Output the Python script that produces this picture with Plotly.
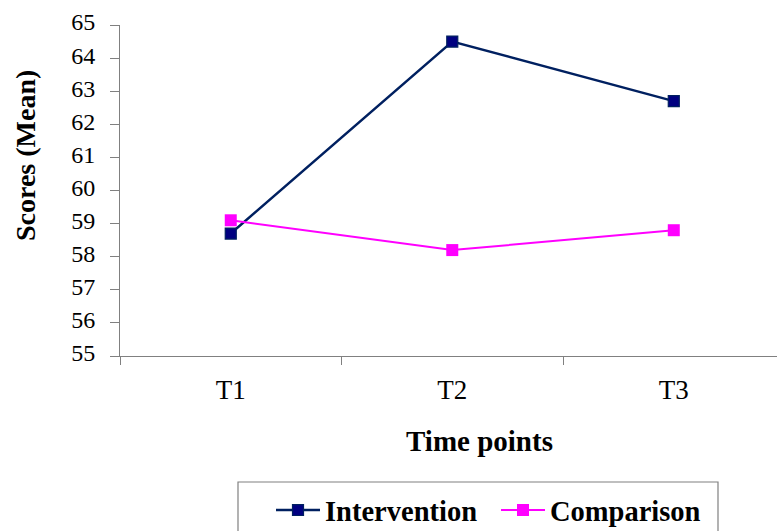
import plotly.graph_objects as go

# Mean scores at each time point
time_points = ["T1", "T2", "T3"]
intervention = [58.7, 64.5, 62.7]
comparison = [59.1, 58.2, 58.8]

SERIF = "Liberation Serif"
AXIS_GREY = "#808080"

W, H = 777, 531
M_L, M_R, M_T, M_B = 120, 0, 25, 175
PW, PH = W - M_L - M_R, H - M_T - M_B


def px_x(px):
    return (px - M_L) / PW


def px_y(py):
    return (H - M_B - py) / PH


fig = go.Figure()
fig.add_trace(go.Scatter(
    x=time_points, y=intervention, name="Intervention",
    mode="lines+markers",
    line=dict(color="#002060", width=2.5),
    marker=dict(symbol="square", size=11, color="#000080",
                line=dict(color="#002060", width=1.2)),
))
fig.add_trace(go.Scatter(
    x=time_points, y=comparison, name="Comparison",
    mode="lines+markers",
    line=dict(color="#FF00FF", width=2),
    marker=dict(symbol="square", size=12, color="#FF00FF",
                line=dict(width=0)),
))

fig.update_layout(
    width=W, height=H,
    margin=dict(l=M_L, r=M_R, t=M_T, b=M_B, pad=0, autoexpand=False),
    plot_bgcolor="white", paper_bgcolor="white",
    font=dict(family=SERIF, color="black"),
    showlegend=True,
    legend=dict(
        orientation="h",
        x=px_x(271), xanchor="left",
        y=px_y(485), yanchor="top",
        font=dict(family=SERIF, size=28.5, color="black", weight="bold"),
        itemwidth=44,
        entrywidth=166, entrywidthmode="pixels",
        bgcolor="rgba(0,0,0,0)", borderwidth=0,
        itemclick=False, itemdoubleclick=False,
    ),
    xaxis=dict(
        type="category", categoryorder="array", categoryarray=time_points,
        range=[-0.5, 2.466],
        showline=True, linecolor=AXIS_GREY, linewidth=1,
        ticks="outside", tickson="boundaries", ticklen=8,
        tickcolor=AXIS_GREY, tickwidth=1,
        tickfont=dict(family=SERIF, size=27, color="black"),
        ticklabelstandoff=10,
        showgrid=False, zeroline=False,
    ),
    yaxis=dict(
        range=[55, 65], dtick=1, tick0=55,
        showline=True, linecolor=AXIS_GREY, linewidth=1,
        ticks="outside", ticklen=9, tickcolor=AXIS_GREY, tickwidth=1,
        tickfont=dict(family=SERIF, size=24, color="black"),
        ticklabelstandoff=10, ticklabelshift=-3,
        showgrid=False, zeroline=False,
    ),
    shapes=[
        dict(type="rect", xref="paper", yref="paper",
             x0=px_x(238), x1=px_x(718), y0=px_y(482), y1=px_y(545),
             line=dict(color=AXIS_GREY, width=1.2), fillcolor="rgba(0,0,0,0)",
             layer="below"),
    ],
    annotations=[
        dict(text="<b>Time points</b>", xref="paper", yref="paper",
             x=px_x(479), y=px_y(441), xanchor="center", yanchor="middle",
             showarrow=False, font=dict(family=SERIF, size=29, color="black")),
        dict(text="<b>Scores (Mean)</b>", xref="paper", yref="paper",
             x=px_x(25), y=px_y(156), xanchor="center", yanchor="middle",
             textangle=-90, showarrow=False,
             font=dict(family=SERIF, size=28, color="black")),
    ],
)

fig.write_html("out.html")
